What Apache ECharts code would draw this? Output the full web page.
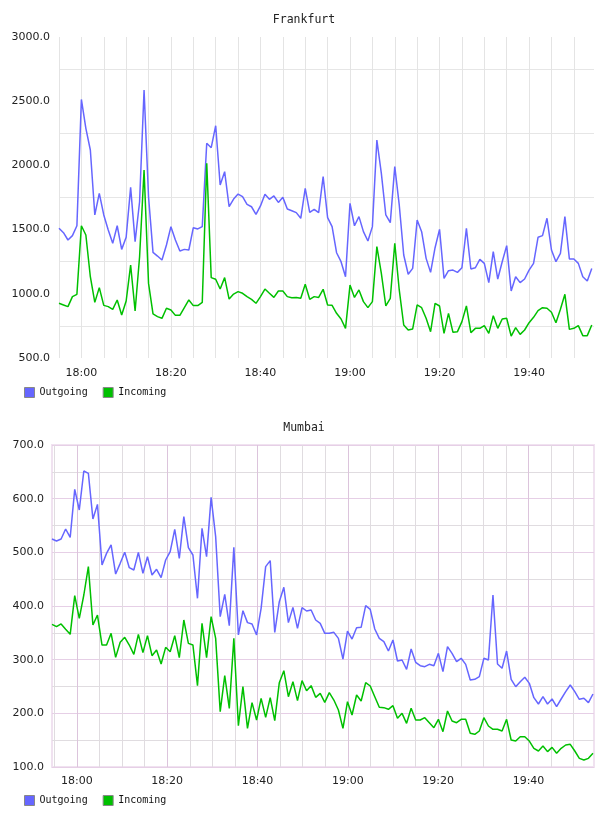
<!DOCTYPE html>
<html><head><meta charset="utf-8">
<script src="https://cdn.jsdelivr.net/npm/echarts@6/dist/echarts.min.js"></script>
<style>html,body{margin:0;padding:0;background:#fff}#c{width:608px;height:816px}</style>
</head><body><div id="c"></div>
<script>
// Minutes since midnight (18:00 = 1080)
const frankStart = 1075, frankStep = 1;
const mumStart = 1074.5, mumStep = 1.0065;

const frankOut = [1510,1476,1419,1453,1530,2514,2289,2120,1614,1782,
1614,1497,1393,1530,1346,1440,1829,1406,1717,2587,
1756,1323,1294,1263,1380,1523,1419,1333,1346,1341,
1515,1505,1523,2172,2138,2309,1847,1951,1678,1738,
1777,1756,1697,1678,1619,1684,1775,1736,1762,1712,
1751,1660,1647,1632,1588,1821,1634,1658,1632,1912,
1593,1523,1320,1250,1133,1705,1530,1601,1484,1411,
1523,2198,1938,1614,1554,1990,1692,1302,1152,1198,
1575,1484,1276,1167,1359,1502,1120,1180,1185,1167,
1203,1510,1193,1203,1268,1237,1087,1328,1115,1250,
1375,1022,1133,1087,1115,1185,1237,1440,1453,1588,
1341,1250,1315,1601,1271,1271,1237,1133,1100,1198];

const frankIn = [926,913,900,978,996,1530,1458,1133,933,1048,
910,900,879,952,835,944,1224,866,1289,1964,
1081,843,822,809,887,874,832,832,892,952,
908,908,933,2016,1126,1113,1037,1126,959,998,
1017,1004,978,957,926,978,1037,1004,972,1022,
1022,978,970,972,965,1074,957,978,972,1035,
913,910,848,804,731,1068,972,1030,939,892,
939,1367,1159,905,965,1393,1030,757,718,726,
913,892,809,705,926,905,692,848,700,705,
783,905,697,731,731,752,692,830,731,804,
809,671,736,684,718,775,817,869,892,887,
856,775,879,996,723,731,752,674,674,757];

const mumOut = [524.8,521.1,524.8,543.5,527.9,617.4,578.9,651.5,647.2,562.1,
589.4,476.4,498.1,513.7,459.6,479.5,500,471.4,467.1,500,
460.9,491.9,457.8,468.3,452.8,485.7,501.2,542.8,488.8,566.4,
508.7,495,414.3,544.7,491.9,602.5,529.2,380.1,421.7,363.3,
509.3,346,391.3,369,366.5,346,395.7,473.3,484.5,350.9,
408.1,434.8,369,397.5,358.4,396.9,390.7,392.5,373.9,367.7,
349.1,349.1,350.9,339.7,301.2,353.4,338.5,359.6,360.2,400.6,
393.8,357.1,339.7,333.5,316.1,336.6,297.5,299.4,282,319.9,
295,288.8,287,291.3,288.8,311.8,277.6,324.2,311.8,296.3,
302.5,291.3,262.1,263.4,268.3,302.5,299.4,420.5,291.9,283.9,
316.1,263.4,249.7,259,267.1,255.9,229.2,217.4,231,217.4,
226.7,212.4,226.7,240.4,252.8,240.4,226.1,228,219.9,236];

const mumIn = [365.8,361.5,366.5,356.5,347.2,419.2,377,420.5,473.3,364.6,
383.2,327.3,327.3,349.1,304.3,332.3,341.6,327.3,309.9,347.2,
313.1,344.7,307.4,318,291.9,323,314.9,344.7,303.7,373.9,
330.4,327.3,251.6,367.7,303.7,380.1,339.7,203.1,270.2,209.3,
339.7,177,249.7,172.1,219.9,187.6,228,192.6,229.2,186.3,
257.1,279.5,231,259,223.6,260.9,242.2,251.6,229.8,237.3,
220.5,238.5,224.8,206.2,172.1,221.7,196.9,234.2,223,257.1,
250.9,231,211.2,210.6,207.5,214.3,190.7,200,181.4,209.3,
187.6,187.6,191.9,182.6,173.3,188.8,165.8,204.3,185.7,182.6,
188.8,188.8,162.7,160.9,167.1,191.9,176.4,170.2,170.2,167.1,
188.8,150.3,148.4,156.5,156.5,148.4,134.8,129.8,139.1,128.6,
136.6,125.5,134.8,141,142.3,129.8,116.1,113,116.1,125.5];

const titles = ['Frankfurt', 'Mumbai'];
const seriesNames = ['Outgoing', 'Incoming'];
const minorTimeTicks = [1075,1080,1085,1090,1095,1100,1105,1110,1115,1120,1125,1130,1135,1140,1145,1150,1155,1160,1165,1170,1175,1180,1185,1190];
const majorTimeTicks = [1080,1100,1120,1140,1160,1180];

const frankTimes = frankOut.map((_, i) => frankStart + i * frankStep);
const mumTimes = mumOut.map((_, i) => mumStart + i * mumStep);
const pair = (times, vals) => vals.map((v, i) => [times[i], v]);

const fmtTime = v => {
  const h = Math.floor(v / 60), m = Math.round(v - h * 60);
  return h + ':' + String(m).padStart(2, '0');
};
const C_OUT = '#6666ff', C_IN = '#00c000';
const labelFont = {fontFamily: 'DejaVu Sans', fontSize: 11, color: '#222'};
const monoFont = 'DejaVu Sans Mono';

const chart = echarts.init(document.getElementById('c'), null, {renderer: 'canvas'});
chart.setOption({
  animation: false,
  backgroundColor: '#fff',
  title: [
    {text: titles[0], left: 'center', top: 14, padding: 0, textStyle: {fontFamily: monoFont, fontSize: 11.5, fontWeight: 'normal', color: '#222'}},
    {text: titles[1], left: 'center', top: 422, padding: 0, textStyle: {fontFamily: monoFont, fontSize: 11.5, fontWeight: 'normal', color: '#222'}}
  ],
  legend: [
    {data: seriesNames, left: 24, top: 387, padding: 0, orient: 'horizontal', icon: 'rect', itemWidth: 10, itemHeight: 10, itemGap: 15,
     itemStyle: {borderColor: '#888', borderWidth: 1},
     textStyle: {fontFamily: monoFont, fontSize: 10, color: '#111'}},
    {data: seriesNames, left: 24, top: 795, padding: 0, orient: 'horizontal', icon: 'rect', itemWidth: 10, itemHeight: 10, itemGap: 15,
     itemStyle: {borderColor: '#888', borderWidth: 1},
     textStyle: {fontFamily: monoFont, fontSize: 10, color: '#111'}}
  ],
  grid: [
    {left: 59, right: 14, top: 37, height: 321, containLabel: false},
    {left: 52, right: 14, top: 445, height: 322, containLabel: false, show: true, borderColor: '#f0e2f0', borderWidth: 2}
  ],
  xAxis: [
    {type: 'value', gridIndex: 0, min: 1075, max: 1194.5, position: 'bottom',
     axisLine: {show: false}, axisTick: {show: false, customValues: minorTimeTicks},
     axisLabel: Object.assign({customValues: majorTimeTicks, formatter: fmtTime, margin: 10}, labelFont),
     splitLine: {show: true, lineStyle: {color: '#e4e4e4', width: 1}}},
    {type: 'value', gridIndex: 1, min: 1074.5, max: 1194.5, position: 'bottom',
     axisLine: {show: false}, axisTick: {show: false, customValues: minorTimeTicks},
     axisLabel: Object.assign({customValues: majorTimeTicks, formatter: fmtTime, margin: 9}, labelFont),
     splitLine: {show: true, lineStyle: {color: '#e0dce0', width: 1}}},
    {type: 'value', gridIndex: 1, min: 1074.5, max: 1194.5, position: 'bottom',
     axisLine: {show: false}, axisTick: {show: false, customValues: majorTimeTicks},
     axisLabel: {show: false},
     splitLine: {show: true, lineStyle: {color: '#dcc4dc', width: 1}}}
  ],
  yAxis: [
    {type: 'value', gridIndex: 0, min: 500, max: 3000, interval: 500,
     axisLine: {show: false}, axisTick: {show: false},
     axisLabel: Object.assign({formatter: v => v.toFixed(1), margin: 9}, labelFont),
     splitLine: {show: false},
     minorTick: {show: false, splitNumber: 2},
     minorSplitLine: {show: true, lineStyle: {color: '#e6e6e6', width: 1}}},
    {type: 'value', gridIndex: 1, min: 100, max: 700, interval: 100,
     axisLine: {show: false}, axisTick: {show: false},
     axisLabel: Object.assign({formatter: v => v.toFixed(1), margin: 8}, labelFont),
     splitLine: {show: true, lineStyle: {color: '#e6cfe6', width: 1}},
     minorTick: {show: false, splitNumber: 2},
     minorSplitLine: {show: true, lineStyle: {color: '#e0dce0', width: 1}}}
  ],
  series: [
    {name: seriesNames[0], type: 'line', xAxisIndex: 0, yAxisIndex: 0, data: pair(frankTimes, frankOut),
     showSymbol: false, symbol: 'none', color: C_OUT, lineStyle: {color: C_OUT, width: 1.5}},
    {name: seriesNames[1], type: 'line', xAxisIndex: 0, yAxisIndex: 0, data: pair(frankTimes, frankIn),
     showSymbol: false, symbol: 'none', color: C_IN, lineStyle: {color: C_IN, width: 1.5}},
    {name: seriesNames[0], type: 'line', xAxisIndex: 1, yAxisIndex: 1, data: pair(mumTimes, mumOut),
     showSymbol: false, symbol: 'none', color: C_OUT, lineStyle: {color: C_OUT, width: 1.5}},
    {name: seriesNames[1], type: 'line', xAxisIndex: 1, yAxisIndex: 1, data: pair(mumTimes, mumIn),
     showSymbol: false, symbol: 'none', color: C_IN, lineStyle: {color: C_IN, width: 1.5}}
  ]
});
</script>
</body></html>
